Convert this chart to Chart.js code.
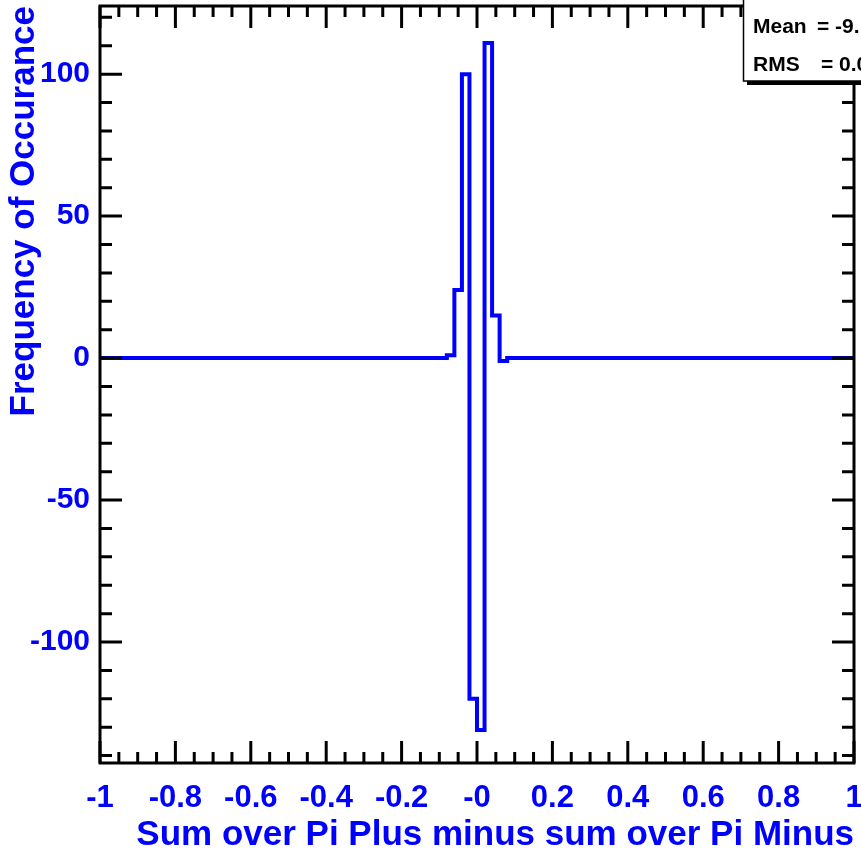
<!DOCTYPE html>
<html>
<head>
<meta charset="utf-8">
<script src="https://cdn.jsdelivr.net/npm/chart.js@4"></script>
<style>
  html, body { margin: 0; padding: 0; background: #fff; }
  #wrap { width: 861px; height: 853px; }
</style>
</head>
<body>
<div id="wrap"><canvas id="hist" width="861" height="853"></canvas></div>
<script>
// Histogram: low edge of each run of bins and its content
const binEdges = [-1, -0.08, -0.06, -0.04, -0.02, 0, 0.02, 0.04, 0.06, 0.08, 1];
const binContents = [0, 1, 24, 100, -120, -131, 111, 15, -1, 0, 0];

const xTickValues = [-1, -0.8, -0.6, -0.4, -0.2, 0, 0.2, 0.4, 0.6, 0.8, 1];
const xTickLabels = ['-1', '-0.8', '-0.6', '-0.4', '-0.2', '-0', '0.2', '0.4', '0.6', '0.8', '1'];
const yTickValues = [-100, -50, 0, 50, 100];
const yTickLabels = ['-100', '-50', '0', '50', '100'];

const statsLabels = ['Mean', 'RMS'];
const statsValues = ['= -9.', '= 0.0'];

const BLUE = '#0000ff';
const FONT = "'Liberation Sans', Arial, Helvetica, sans-serif";

// ROOT style frame: ticks on all four sides pointing inwards
const rootFrame = {
  id: 'rootFrame',
  afterDatasetsDraw(chart) {
    const { ctx, chartArea: a, scales: { x, y } } = chart;
    ctx.save();
    ctx.strokeStyle = '#000';
    ctx.lineWidth = 3;
    ctx.strokeRect(a.left, a.top, a.right - a.left, a.bottom - a.top);

    ctx.beginPath();
    // x ticks, minor every 0.05
    for (let i = 0; i <= 40; i++) {
      const v = -1 + i * 0.05;
      const px = x.getPixelForValue(v);
      const len = i % 4 === 0 ? 22 : 11;
      ctx.moveTo(px, a.bottom); ctx.lineTo(px, a.bottom - len);
      ctx.moveTo(px, a.top); ctx.lineTo(px, a.top + len);
    }
    // y ticks, minor every 10
    for (let v = -140; v <= 120; v += 10) {
      const py = y.getPixelForValue(v);
      const len = v % 50 === 0 ? 22 : 12;
      ctx.moveTo(a.left, py); ctx.lineTo(a.left + len, py);
      ctx.moveTo(a.right, py); ctx.lineTo(a.right - len, py);
    }
    ctx.stroke();
    ctx.restore();
  },
  afterDraw(chart) {
    // statistics box, cut by the right edge of the canvas
    const { ctx } = chart;
    ctx.save();
    ctx.fillStyle = '#000';
    ctx.fillRect(747, 81, 130, 4);
    ctx.fillStyle = '#fff';
    ctx.fillRect(743, -2, 130, 83);
    ctx.strokeStyle = '#000';
    ctx.lineWidth = 1.5;
    ctx.strokeRect(743.5, -2, 130, 83);
    ctx.fillStyle = '#000';
    ctx.font = 'bold 21px ' + FONT;
    ctx.textBaseline = 'middle';
    ctx.fillText(statsLabels[0], 753, 27);
    ctx.fillText(statsValues[0], 817, 27);
    ctx.fillText(statsLabels[1], 753, 65);
    ctx.fillText(statsValues[1], 821, 65);
    ctx.restore();
  }
};

const points = binEdges.map((e, i) => ({ x: e, y: binContents[i] }));

new Chart(document.getElementById('hist'), {
  type: 'line',
  data: {
    datasets: [{
      data: points,
      borderColor: BLUE,
      borderWidth: 4,
      pointRadius: 0,
      fill: false,
      stepped: 'before',
      tension: 0
    }]
  },
  options: {
    responsive: false,
    animation: false,
    layout: { padding: { top: 6, right: 7, left: 0, bottom: 0 } },
    plugins: { legend: { display: false }, tooltip: { enabled: false } },
    scales: {
      x: {
        type: 'linear',
        min: -1,
        max: 1,
        grid: { display: false },
        border: { display: false },
        afterBuildTicks: s => { s.ticks = xTickValues.map(v => ({ value: v })); },
        afterFit: s => { s.height = 90; s.paddingLeft = 0; s.paddingRight = 0; },
        ticks: {
          autoSkip: false,
          maxRotation: 0,
          minRotation: 0,
          padding: 12,
          color: BLUE,
          font: { family: FONT, size: 31, weight: 'bold', lineHeight: 1 },
          callback: (v, i) => xTickLabels[i]
        },
        title: {
          display: true,
          text: 'Sum over Pi Plus minus sum over Pi Minus',
          align: 'end',
          color: BLUE,
          padding: 0,
          font: { family: FONT, size: 35, weight: 'bold', lineHeight: 1 }
        }
      },
      y: {
        type: 'linear',
        min: -142.6,
        max: 124,
        grid: { display: false },
        border: { display: false },
        afterBuildTicks: s => { s.ticks = yTickValues.map(v => ({ value: v })); },
        afterFit: s => { s.width = 100; s.paddingTop = 0; s.paddingBottom = 0; },
        ticks: {
          padding: 2,
          color: BLUE,
          font: { family: FONT, size: 30, weight: 'bold', lineHeight: 1 },
          callback: (v, i) => yTickLabels[i]
        },
        title: {
          display: true,
          text: 'Frequency of Occurance',
          align: 'end',
          color: BLUE,
          padding: { top: 7, bottom: 0 },
          font: { family: FONT, size: 35, weight: 'bold', lineHeight: 1 }
        }
      }
    }
  },
  plugins: [rootFrame]
});
</script>
</body>
</html>
